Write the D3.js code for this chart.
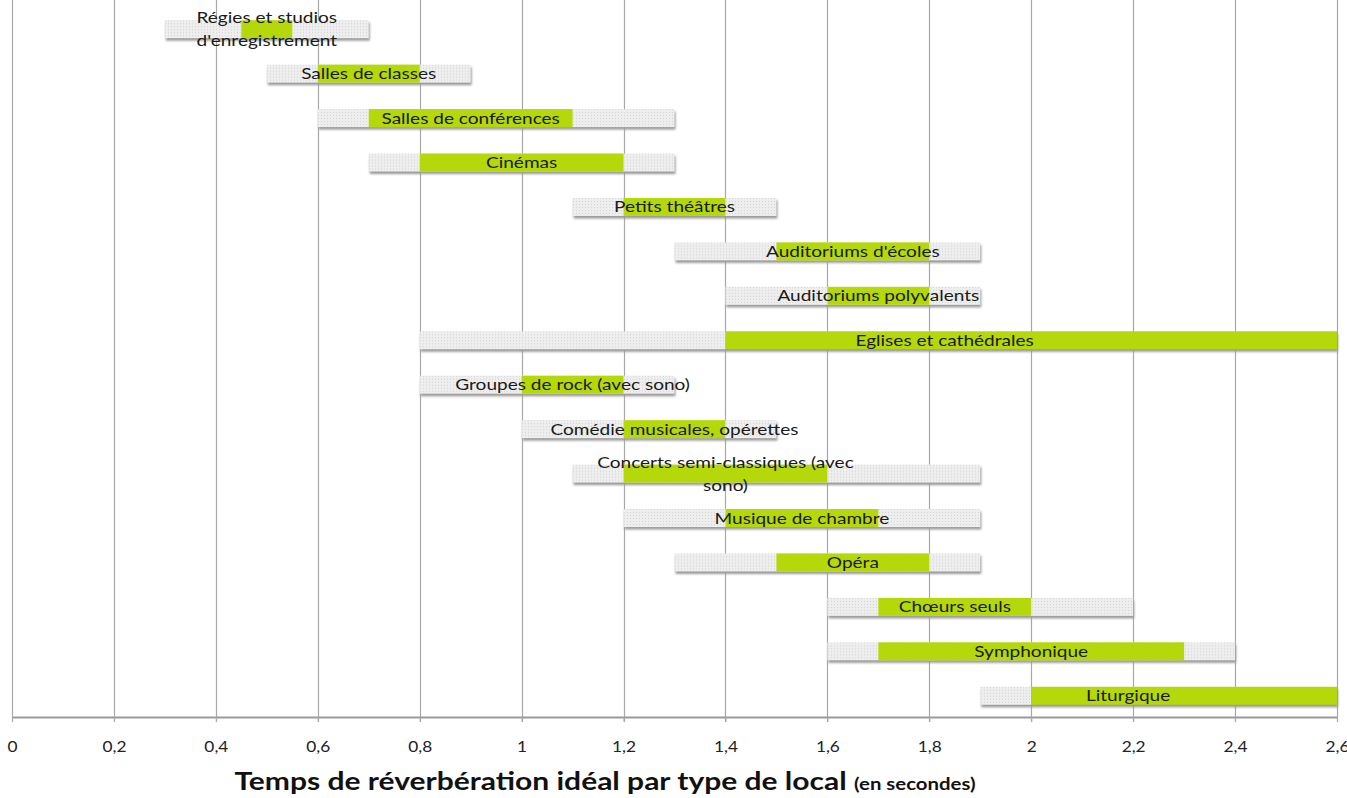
<!DOCTYPE html>
<html>
<head>
<meta charset="utf-8">
<script src="https://cdn.jsdelivr.net/npm/d3@7"></script>
<style>
  html, body { margin: 0; padding: 0; background: #fff; overflow: hidden; }
  svg { display: block; font-family: Lato, "Open Sans", sans-serif; }
</style>
</head>
<body>
<svg id="chart"></svg>
<script>
// categories, top to bottom (\n = line break in label)
const categories = [
    "Régies et studios\nd'enregistrement",
    "Salles de classes",
    "Salles de conférences",
    "Cinémas",
    "Petits théâtres",
    "Auditoriums d'écoles",
    "Auditoriums polyvalents",
    "Eglises et cathédrales",
    "Groupes de rock (avec sono)",
    "Comédie musicales, opérettes",
    "Concerts semi-classiques (avec\nsono)",
    "Musique de chambre",
    "Opéra",
    "Chœurs seuls",
    "Symphonique",
    "Liturgique"
];
// acceptable range (grey)
const rangeMin = [0.3, 0.5, 0.6, 0.7, 1.1, 1.3, 1.4, 0.8, 0.8, 1.0, 1.1, 1.2, 1.3, 1.6, 1.6, 1.9];
const rangeMax = [0.7, 0.9, 1.3, 1.3, 1.5, 1.9, 1.9, 1.4, 1.3, 1.5, 1.9, 1.9, 1.9, 2.2, 2.4, 2.0];
// ideal range (green)
const idealMin = [0.45, 0.6, 0.7, 0.8, 1.2, 1.5, 1.6, 1.4, 1.0, 1.2, 1.2, 1.4, 1.5, 1.7, 1.7, 2.0];
const idealMax = [0.55, 0.8, 1.1, 1.2, 1.4, 1.8, 1.8, 2.6, 1.2, 1.4, 1.6, 1.7, 1.8, 2.0, 2.3, 2.6];
// label centre (seconds) where it is not the middle of the green bar
const labelAt = {7: 1.83, 15: 2.19};

const xTicks = [0, 0.2, 0.4, 0.6, 0.8, 1, 1.2, 1.4, 1.6, 1.8, 2, 2.2, 2.4, 2.6];
const xTitle = "Temps de réverbération idéal par type de local";
const xTitleUnit = "(en secondes)";

const width = 1347, height = 798;
const margin = {top: 6, right: 10, bottom: 81, left: 12};
const plotBottom = height - margin.bottom;
// the original picture is stretched sideways, so text is too
const stretch = 1.19;

const svg = d3.select("#chart").attr("width", width).attr("height", height);

const data = categories.map((c, i) => ({
    cat: c, i: i,
    lo: rangeMin[i], hi: rangeMax[i],
    gLo: idealMin[i], gHi: idealMax[i]
}));

const x = d3.scaleLinear()
    .domain([0, 2.6])
    .range([margin.left, width - margin.right])
    .clamp(true);

const y = d3.scaleBand()
    .domain(categories)
    .range([margin.top, plotBottom])
    .padding(0);

const barH = 18;
const fr = d3.formatLocale({decimal: ",", thousands: " ", grouping: [3], currency: ["", "€"]}).format("~g");

// dotted pattern for grey bars
const defs = svg.append("defs");
const pat = defs.append("pattern")
    .attr("id", "dots")
    .attr("width", 3).attr("height", 3)
    .attr("patternUnits", "userSpaceOnUse");
pat.append("rect").attr("width", 3).attr("height", 3).attr("fill", "#eeeeee");
pat.append("rect").attr("width", 1).attr("height", 1).attr("fill", "#d2d2d2");

const blur = defs.append("filter").attr("id", "soft");
blur.append("feGaussianBlur").attr("stdDeviation", 0.8);

// grid lines
svg.append("g").selectAll("line")
    .data(xTicks)
    .join("line")
    .attr("x1", d => Math.round(x(d)) + 0.5)
    .attr("x2", d => Math.round(x(d)) + 0.5)
    .attr("y1", 0)
    .attr("y2", plotBottom + 5)
    .attr("stroke", "#a8a8a8")
    .attr("stroke-width", 1.2);

const rows = svg.append("g").selectAll("g")
    .data(data)
    .join("g")
    .attr("transform", d => `translate(0, ${y(d.cat) + y.bandwidth() / 2 - barH / 2 + 1})`);

// shadow under bars
rows.append("rect")
    .attr("x", d => x(d.lo) + 1)
    .attr("y", 2.5)
    .attr("width", d => Math.max(0, x(Math.max(d.hi, d.gHi)) - x(d.lo)))
    .attr("height", barH)
    .attr("fill", "#9a9a9a")
    .attr("filter", "url(#soft)");

rows.append("rect")
    .attr("x", d => x(d.lo))
    .attr("y", 0)
    .attr("width", d => x(d.hi) - x(d.lo))
    .attr("height", barH)
    .attr("fill", "url(#dots)");

rows.append("rect")
    .attr("x", d => x(d.gLo))
    .attr("y", 0)
    .attr("width", d => x(d.gHi) - x(d.gLo))
    .attr("height", barH)
    .attr("fill", "#b5d80a");

// labels
const lineH = 23;
rows.append("text")
    .attr("text-anchor", "middle")
    .attr("font-size", "16px")
    .attr("fill", "#1a1a1a")
    .attr("transform", d => {
        const cx = x(labelAt[d.i] !== undefined ? labelAt[d.i] : (d.gLo + d.gHi) / 2);
        return `translate(${cx}, 0) scale(${stretch}, 1)`;
    })
    .each(function(d) {
        const lines = d.cat.split("\n");
        const t = d3.select(this);
        const y0 = barH / 2 + 5.5 - (lines.length - 1) * lineH / 2;
        lines.forEach((l, k) => {
            t.append("tspan").attr("x", 0).attr("y", y0 + k * lineH).text(l);
        });
    });

// x axis
const xAxis = d3.axisBottom(x)
    .tickValues(xTicks)
    .tickSize(5)
    .tickSizeOuter(0)
    .tickFormat(fr);

const axisG = svg.append("g")
    .attr("transform", `translate(0, ${plotBottom})`)
    .call(xAxis);
axisG.select(".domain").attr("stroke", "#9a9a9a").attr("stroke-width", 2);
axisG.selectAll(".tick line").attr("stroke", "#a8a8a8");
axisG.selectAll(".tick text")
    .attr("y", 24)
    .attr("fill", "#222")
    .attr("transform", "scale(1.08, 1)")
    .style("font-family", "Lato, sans-serif")
    .style("font-size", "16px");

// axis title
const title = svg.append("text")
    .attr("transform", `translate(605, 790) scale(1.2, 1)`)
    .attr("text-anchor", "middle")
    .attr("font-weight", "bold")
    .attr("fill", "#111");
title.append("tspan").attr("font-size", "25px").text(xTitle + " ");
title.append("tspan").attr("font-size", "17px").text(xTitleUnit);
</script>
</body>
</html>
